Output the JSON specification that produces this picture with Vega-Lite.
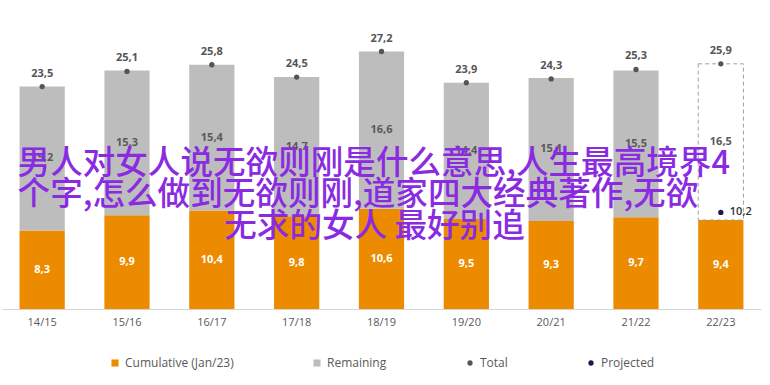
{
  "$schema": "https://vega.github.io/schema/vega-lite/v6.json",
  "width": 759,
  "height": 284,
  "padding": {"left": 2, "top": 25, "right": 9, "bottom": 8},
  "background": "white",
  "config": {
    "locale": {"number": {"decimal": ",", "thousands": ".", "grouping": [3], "currency": ["", ""]}},
    "view": {"stroke": null},
    "font": "Open Sans",
    "legend": {"layout": {"bottom": {"anchor": "middle", "direction": "horizontal", "margin": 77}}}
  },
  "data": {
    "values": [
      {"season": "14/15", "series": "Cumulative (Jan/23)", "value": 8.3},
      {"season": "14/15", "series": "Remaining", "value": 15.2},
      {"season": "14/15", "series": "Total", "value": 23.5},
      {"season": "15/16", "series": "Cumulative (Jan/23)", "value": 9.9},
      {"season": "15/16", "series": "Remaining", "value": 15.3},
      {"season": "15/16", "series": "Total", "value": 25.1},
      {"season": "16/17", "series": "Cumulative (Jan/23)", "value": 10.4},
      {"season": "16/17", "series": "Remaining", "value": 15.4},
      {"season": "16/17", "series": "Total", "value": 25.8},
      {"season": "17/18", "series": "Cumulative (Jan/23)", "value": 9.8},
      {"season": "17/18", "series": "Remaining", "value": 14.7},
      {"season": "17/18", "series": "Total", "value": 24.5},
      {"season": "18/19", "series": "Cumulative (Jan/23)", "value": 10.6},
      {"season": "18/19", "series": "Remaining", "value": 16.6},
      {"season": "18/19", "series": "Total", "value": 27.2},
      {"season": "19/20", "series": "Cumulative (Jan/23)", "value": 9.5},
      {"season": "19/20", "series": "Remaining", "value": 14.4},
      {"season": "19/20", "series": "Total", "value": 23.9},
      {"season": "20/21", "series": "Cumulative (Jan/23)", "value": 9.3},
      {"season": "20/21", "series": "Remaining", "value": 15.1},
      {"season": "20/21", "series": "Total", "value": 24.3},
      {"season": "21/22", "series": "Cumulative (Jan/23)", "value": 9.7},
      {"season": "21/22", "series": "Remaining", "value": 15.5},
      {"season": "21/22", "series": "Total", "value": 25.3},
      {"season": "22/23", "series": "Cumulative (Jan/23)", "value": 9.4},
      {"season": "22/23", "series": "Remaining", "value": 16.5},
      {"season": "22/23", "series": "Total", "value": 25.9},
      {"season": "22/23", "series": "Projected", "value": 10.2}
    ]
  },
  "encoding": {
    "x": {
      "field": "season",
      "type": "nominal",
      "sort": null,
      "scale": {"paddingInner": 0.467, "paddingOuter": 0.207},
      "axis": {
        "title": null,
        "labelAngle": 0,
        "ticks": false,
        "domainColor": "#d4d4d4",
        "labelColor": "#595959",
        "labelFontSize": 11,
        "labelPadding": 7,
        "labelFont": "Open Sans"
      }
    }
  },
  "layer": [
    {
      "transform": [{"filter": "datum.series === 'Cumulative (Jan/23)' || datum.series === 'Remaining'"}],
      "mark": {"type": "bar", "strokeWidth": 1},
      "encoding": {
        "y": {"field": "value", "type": "quantitative", "stack": "zero", "scale": {"domain": [0, 30]}, "axis": null},
        "order": {"field": "series", "type": "nominal", "sort": "ascending"},
        "color": {
          "field": "series",
          "type": "nominal",
          "scale": {
            "domain": ["Cumulative (Jan/23)", "Remaining"],
            "range": ["#ec8b00", "#bdbdbd"]
          },
          "legend": {
            "orient": "bottom",
            "direction": "horizontal",
            "title": null,
            "offset": 30,
            "columnPadding": 77,
            "labelFontSize": 12,
            "labelColor": "#595959",
            "labelFont": "Open Sans",
            "labelOffset": 4,
            "symbolType": "square",
            "symbolSize": 50,
            "symbolStrokeWidth": 0,
            "symbolOpacity": 1
          }
        },
        "fillOpacity": {"condition": {"test": "datum.season === '22/23' && datum.series === 'Remaining'", "value": 0}, "value": 1},
        "stroke": {"condition": {"test": "datum.season === '22/23' && datum.series === 'Remaining'", "value": "#a0a0a0"}, "value": "transparent"},
        "strokeDash": {"condition": {"test": "datum.season === '22/23' && datum.series === 'Remaining'", "value": [4, 3]}, "value": [1, 0]}
      }
    },
    {
      "transform": [{"filter": "datum.series === 'Cumulative (Jan/23)' || datum.series === 'Remaining'"}],
      "mark": {"type": "text", "fontSize": 11, "fontWeight": "bold", "baseline": "middle"},
      "encoding": {
        "y": {"field": "value", "type": "quantitative", "stack": "zero", "bandPosition": 0.5},
        "order": {"field": "series", "type": "nominal", "sort": "ascending"},
        "detail": {"field": "series"},
        "text": {"field": "value", "type": "quantitative", "format": ".1f"},
        "color": {"condition": {"test": "datum.series === 'Remaining'", "value": "#5a5a5a"}, "value": "white"}
      }
    },
    {
      "transform": [{"filter": "datum.series === 'Total' || datum.series === 'Projected'"}],
      "mark": {"type": "point", "filled": true, "size": 28, "opacity": 1},
      "encoding": {
        "y": {"field": "value", "type": "quantitative", "stack": null},
        "fill": {
          "field": "series",
          "type": "nominal",
          "scale": {"domain": ["Total", "Projected"], "range": ["#555555", "#1e1656"]},
          "legend": {
            "orient": "bottom",
            "direction": "horizontal",
            "title": null,
            "offset": 30,
            "columnPadding": 77,
            "labelFontSize": 12,
            "labelColor": "#595959",
            "labelFont": "Open Sans",
            "labelOffset": 4,
            "symbolType": "circle",
            "symbolSize": 28,
            "symbolStrokeWidth": 0,
            "symbolOpacity": 1
          }
        }
      }
    },
    {
      "transform": [{"filter": "datum.series === 'Total'"}],
      "mark": {"type": "text", "dy": -13, "fontSize": 11, "fontWeight": "bold", "color": "#555555", "baseline": "middle"},
      "encoding": {
        "y": {"field": "value", "type": "quantitative", "stack": null},
        "text": {"field": "value", "type": "quantitative", "format": ".1f"}
      }
    },
    {
      "transform": [{"filter": "datum.series === 'Projected'"}],
      "mark": {"type": "text", "dx": 9, "align": "left", "fontSize": 11, "fontWeight": 600, "color": "#333333", "baseline": "middle"},
      "encoding": {
        "y": {"field": "value", "type": "quantitative", "stack": null},
        "text": {"field": "value", "type": "quantitative", "format": ".1f"}
      }
    },
    {
      "data": {"values": [{"caption": "男人对女人说无欲则刚是什么意思,人生最高境界4\n个字,怎么做到无欲则刚,道家四大经典著作,无欲"}]},
      "mark": {"type": "text", "align": "left", "baseline": "middle", "dx": -2, "lineBreak": "\n", "lineHeight": 31, "font": "Noto Sans CJK SC", "fontSize": 32.6, "fontWeight": 500, "color": "#8a2be2"},
      "encoding": {
        "x": {"datum": "14/15", "type": "nominal", "bandPosition": 0},
        "y": {"datum": 15.32, "type": "quantitative"},
        "text": {"field": "caption"}
      }
    },
    {
      "data": {"values": [{"caption": "无求的女人 最好别追"}]},
      "mark": {"type": "text", "align": "center", "baseline": "middle", "dx": -7, "font": "Noto Sans CJK SC", "fontSize": 32.6, "fontWeight": 500, "color": "#8a2be2"},
      "encoding": {
        "x": {"datum": "18/19", "type": "nominal"},
        "y": {"datum": 8.66, "type": "quantitative"},
        "text": {"field": "caption"}
      }
    }
  ]
}
